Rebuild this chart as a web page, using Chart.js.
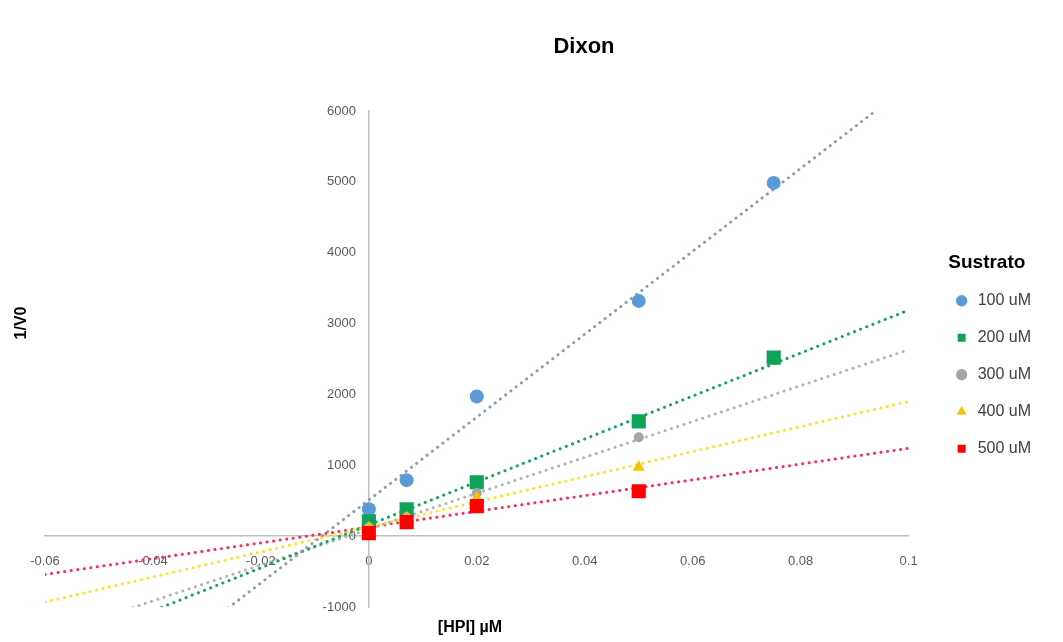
<!DOCTYPE html>
<html lang="es">
    <head>
        <meta charset="UTF-8">
        <title>Dixon</title>
        <style>
            body {
                margin: 0;
                background-color: #ffffff;
            }
            #chart-container {
                position: absolute;
                top: 0;
                left: 0;
                width: 1063px;
                height: 642px;
            }
        </style>
    </head>
    <body>
        <div id="chart-container">
            <canvas id="myChart" width="1063" height="642"></canvas>
        </div>
        <script src="https://cdn.jsdelivr.net/npm/chart.js"></script>
        <script>
            // data
            let seriesNames = ['100 uM', '200 uM', '300 uM', '400 uM', '500 uM'];

            let xValues = [0, 0.007, 0.02, 0.05, 0.075];                  // [HPI] uM

            let y100 = [380, 790, 1970, 3320, 4985];
            let y200 = [210, 380, 760, 1620, 2520];
            let y300 = [130, 270, 610, 1395];
            let y400 = [120, 260, 540, 972];
            let y500 = [42, 197, 423, 634];

            // trendline ends (x = -0.06 and x = 0.1)
            let trendX = [-0.06, 0.1];
            let trend100 = [-3000, 6360];
            let trend200 = [-1660, 3190];
            let trend300 = [-1420, 2630];
            let trend400 = [-930, 1900];
            let trend500 = [-540, 1240];

            let xTicks = [-0.06, -0.04, -0.02, 0, 0.02, 0.04, 0.06, 0.08, 0.1];
            let yTicks = [-1000, 0, 1000, 2000, 3000, 4000, 5000, 6000];

            let markerColors = ['#5b9bd5', '#0fa35a', '#a5a5a5', '#f5c400', '#ff0000'];
            let lineColors = ['#8c9cb0', '#13a35c', '#b4b4b4', '#ffe22a', '#ff2a55'];
            let pointStyles = ['circle', 'rect', 'circle', 'triangle', 'rect'];
            let pointSizes = [7, 10, 5, 7, 10];

            let yLists = [y100, y200, y300, y400, y500];
            let trendLists = [trend100, trend200, trend300, trend400, trend500];

            const datasets = [];

            // markers
            yLists.forEach((ys, i) => {
                datasets.push({
                    label: seriesNames[i],
                    data: ys.map((y, k) => ({x: xValues[k], y: y})),
                    backgroundColor: markerColors[i],
                    borderColor: markerColors[i],
                    pointStyle: pointStyles[i],
                    pointRadius: pointSizes[i],
                    pointHoverRadius: pointSizes[i],
                    borderWidth: 0,
                    showLine: false,
                    order: 5 - i
                });
            });

            // dotted trendlines
            trendLists.forEach((t, i) => {
                datasets.push({
                    label: 'trend ' + seriesNames[i],
                    data: t.map((y, k) => ({x: trendX[k], y: y})),
                    borderColor: lineColors[i],
                    borderWidth: 3,
                    borderDash: [0.1, 6.5],
                    borderCapStyle: 'round',
                    pointRadius: 0,
                    showLine: true,
                    fill: false,
                    order: 10
                });
            });

            //titles drawn on the canvas
            const textPlugin = {
                id: 'textPlugin',
                afterDraw(chart) {
                    const ctx = chart.ctx;
                    ctx.save();
                    ctx.fillStyle = '#000000';
                    ctx.textAlign = 'center';
                    ctx.textBaseline = 'middle';
                    ctx.font = 'bold 22px "Liberation Sans", Arial, sans-serif';
                    ctx.fillText('Dixon', 584, 47);
                    ctx.font = 'bold 16px "Liberation Sans", Arial, sans-serif';
                    ctx.fillText('[HPI] µM', 470, 628);
                    ctx.translate(22, 323);
                    ctx.rotate(-Math.PI / 2);
                    ctx.fillText('1/V0', 0, 0);
                    ctx.restore();
                }
            };

            //empty box between plot area and legend
            const spacerPlugin = {
                id: 'spacer',
                beforeInit(chart) {
                    Chart.layouts.addBox(chart, {
                        position: 'right',
                        weight: 500,
                        fullSize: false,
                        options: {},
                        width: 24,
                        height: 0,
                        update(maxWidth, maxHeight) {
                            this.width = 24;
                            this.height = maxHeight;
                        },
                        isHorizontal() { return false; },
                        getPadding() { return {left: 0, right: 0, top: 0, bottom: 0}; },
                        draw() {}
                    });
                }
            };

            Chart.defaults.font.family = '"Liberation Sans", Arial, sans-serif';

            const config = {
                type: 'scatter',
                data: { datasets },
                options: {
                    responsive: false,
                    animation: false,
                    layout: {
                        padding: { left: 45, top: 111, bottom: 35, right: 22 }
                    },
                    scales: {
                        x: {
                            type: 'linear',
                            min: -0.06,
                            max: 0.1,
                            position: { y: 0 },
                            afterBuildTicks: (scale) => { scale.ticks = xTicks.map(v => ({value: v})); },
                            grid: { display: false },
                            border: { display: true, color: '#bfbfbf', width: 1.5 },
                            ticks: {
                                color: '#595959',
                                font: { size: 13 },
                                padding: 9,
                                maxRotation: 0,
                                callback: (v) => String(Math.round(v * 100) / 100)
                            }
                        },
                        y: {
                            type: 'linear',
                            min: -1000,
                            max: 6000,
                            position: { x: 0 },
                            afterBuildTicks: (scale) => { scale.ticks = yTicks.map(v => ({value: v})); },
                            grid: { display: false },
                            border: { display: true, color: '#bfbfbf', width: 1.5 },
                            ticks: {
                                color: '#595959',
                                font: { size: 13 },
                                callback: (v) => String(v) + '\u2002\u2002'
                            }
                        }
                    },
                    plugins: {
                        tooltip: { enabled: false },
                        legend: {
                            position: 'right',
                            align: 'center',
                            title: {
                                display: true,
                                text: 'Sustrato',
                                color: '#000000',
                                font: { size: 19, weight: 'bold', lineHeight: 0.5 },
                                padding: { top: 13, bottom: 9 }
                            },
                            labels: {
                                usePointStyle: true,
                                boxHeight: 8,
                                padding: 21,
                                color: '#404040',
                                font: { size: 16 },
                                filter: (item) => item.datasetIndex < 5,
                                sort: (a, b) => a.datasetIndex - b.datasetIndex
                            }
                        }
                    }
                },
                plugins: [textPlugin, spacerPlugin]
            };

            //rendering of chart
            const myChart = new Chart(
                document.getElementById('myChart'),
                config
            );
        </script>
    </body>
</html>
